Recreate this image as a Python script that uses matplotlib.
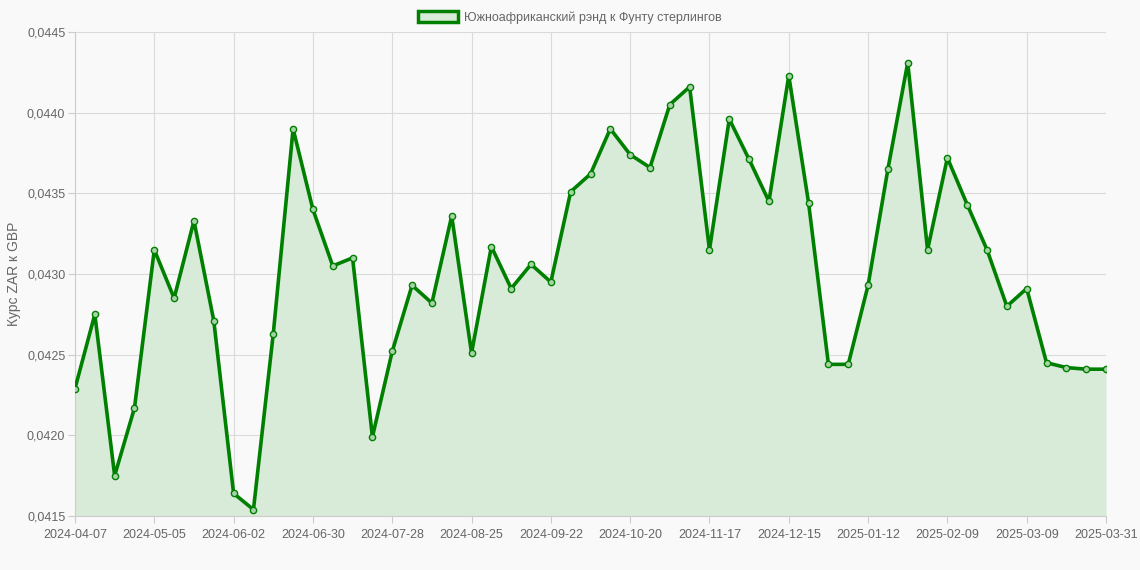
import numpy as np
import pandas as pd
import matplotlib
matplotlib.use("Agg")
import matplotlib.pyplot as plt
from matplotlib.ticker import FuncFormatter, MultipleLocator

plt.rcParams['font.family'] = ['Liberation Sans', 'DejaVu Sans']

# weekly dates, last point is 2025-03-31
dates = list(pd.date_range('2024-04-07', periods=52, freq='7D').strftime('%Y-%m-%d')) + ['2025-03-31']

rate = [0.04229, 0.04275, 0.04175, 0.04217, 0.04315, 0.04285, 0.04333, 0.04271,
        0.04164, 0.04154, 0.04263, 0.04390, 0.04340, 0.04305, 0.04310, 0.04199,
        0.04252, 0.04293, 0.04282, 0.04336, 0.04251, 0.04317, 0.04291, 0.04306,
        0.04295, 0.04351, 0.04362, 0.04390, 0.04374, 0.04366, 0.04405, 0.04416,
        0.04315, 0.04396, 0.04371, 0.04345, 0.04423, 0.04344, 0.04244, 0.04244,
        0.04293, 0.04365, 0.04431, 0.04315, 0.04372, 0.04343, 0.04315, 0.04280,
        0.04291, 0.04245, 0.04242, 0.04241, 0.04241]

label = 'Южноафриканский рэнд к Фунту стерлингов'
ylabel = 'Курс ZAR к GBP'

bg = '#f9f9f9'
green = '#008000'
fill = '#d8ead8'

fig = plt.figure(figsize=(11.4, 5.7), dpi=100, facecolor=bg)
ax = fig.add_axes([75/1140, 1-516/570, (1106-75)/1140, (516-32)/570])
ax.set_facecolor(bg)

x = np.arange(len(rate))
ax.fill_between(x, rate, 0.0415, color=fill, zorder=1, linewidth=0)
ax.plot(x, rate, color=green, linewidth=2.6, zorder=3,
        marker='o', markersize=4.5, markerfacecolor='#a8d2a8', markeredgecolor=green,
        markeredgewidth=1.0)

ax.set_xlim(0, len(rate)-1)
ax.set_ylim(0.0415, 0.0445)
ax.yaxis.set_major_locator(MultipleLocator(0.0005))
ax.yaxis.set_major_formatter(FuncFormatter(lambda v, p: ('%.4f' % v).replace('.', ',')))

ticks = list(range(0, 49, 4)) + [len(rate)-1]
ax.set_xticks(ticks)
ax.set_xticklabels([dates[i] for i in ticks])

ax.grid(True, color='#dadada', linewidth=0.8, zorder=0)
ax.set_axisbelow(True)
for s in ['top', 'right']:
    ax.spines[s].set_visible(False)
ax.spines['left'].set_color('#cccccc')
ax.spines['bottom'].set_color('#cccccc')
ax.tick_params(axis='both', colors='#cccccc', labelcolor='#666666', labelsize=9, length=5, pad=2)
ax.tick_params(axis='x', pad=4)

ax.set_ylabel(ylabel, color='#666666', fontsize=10, labelpad=4)

handle = plt.Rectangle((0, 0), 1, 1, facecolor=fill, edgecolor=green, linewidth=2.5)
fig.legend([handle], [label], loc='upper center', bbox_to_anchor=(0.5, 1.0),
           frameon=False, fontsize=9, labelcolor='#666666',
           handlelength=3.2, handleheight=0.9, handletextpad=0.5)

fig.savefig('out.png', dpi=100, facecolor=bg)
